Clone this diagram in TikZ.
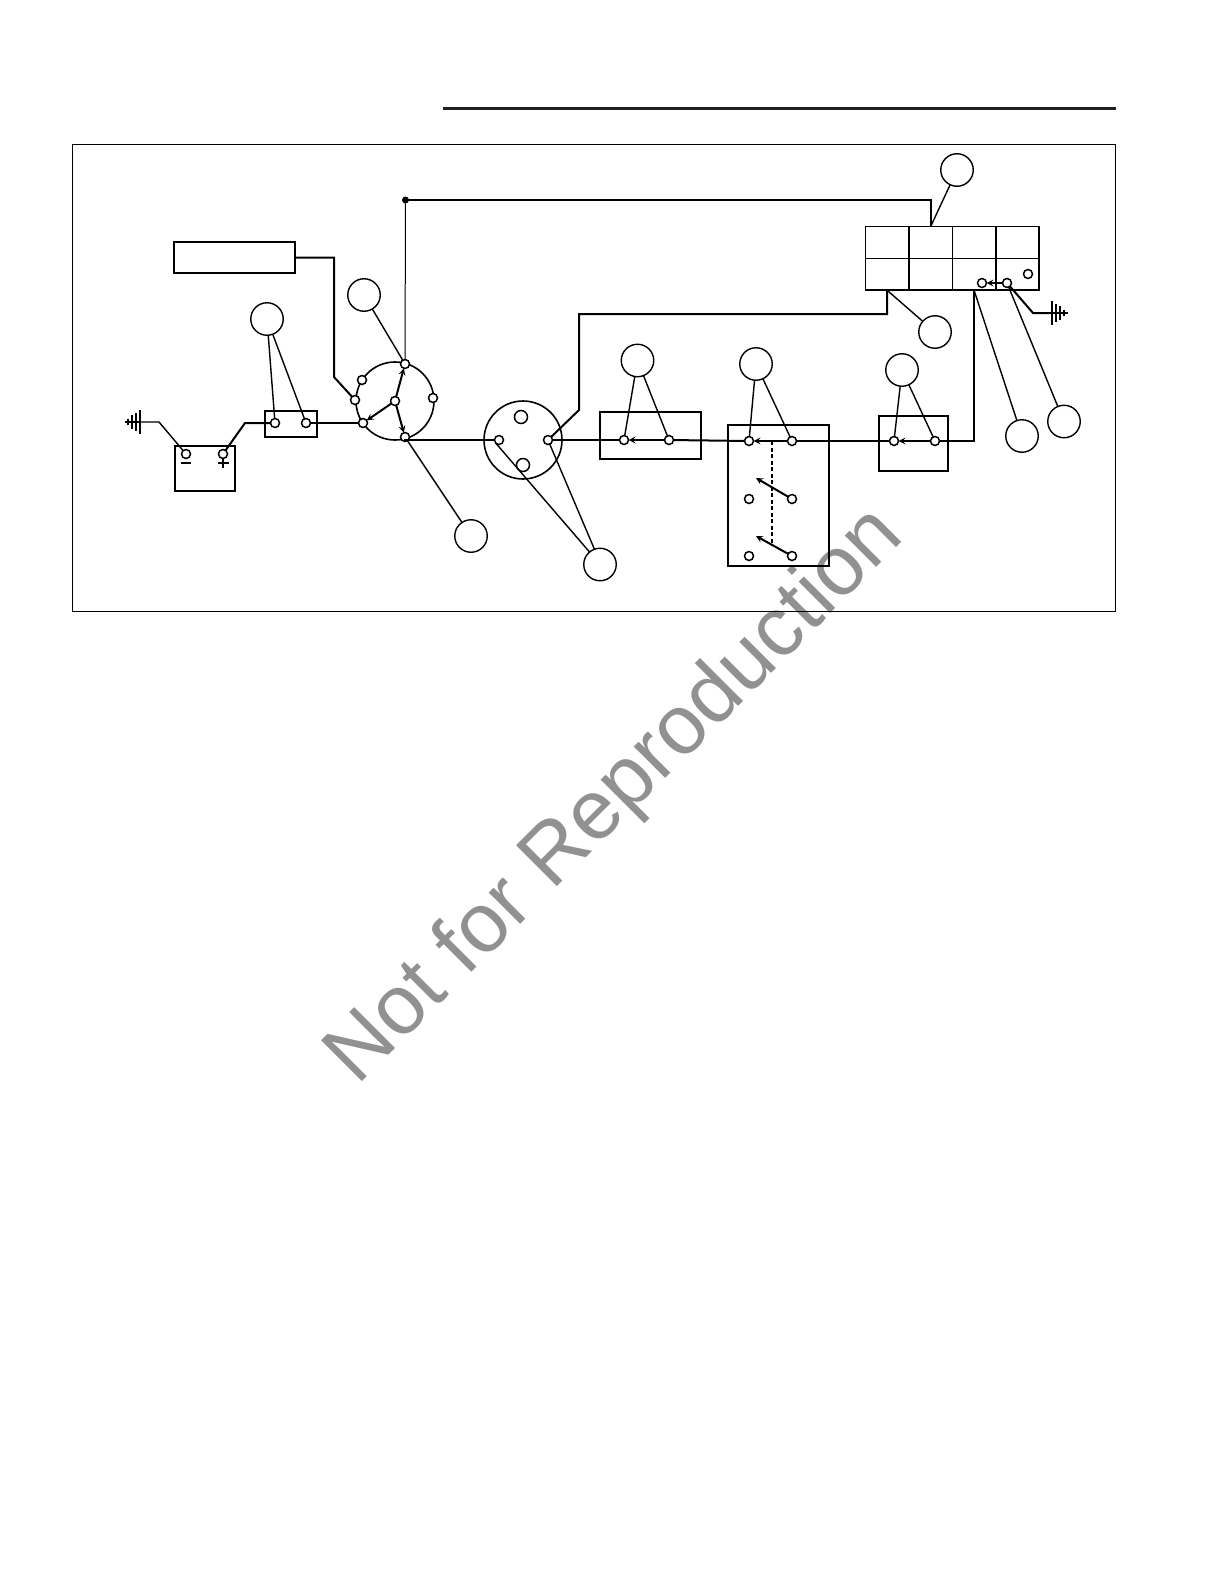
\documentclass[tikz,border=0pt]{standalone}
\usepackage{fontspec}
\usepackage{xcolor}
\usetikzlibrary{matrix}
\newfontfamily\markfont{Liberation Sans}
\definecolor{markgray}{rgb}{0.57,0.57,0.57}
\definecolor{rulegray}{rgb}{0.13,0.13,0.13}
\begin{document}
\begin{tikzpicture}[x=1pt,y=-1pt,>=stealth,
balloon/.style={circle,draw,line width=1.4pt,fill=white,minimum size=32.5pt,inner sep=0pt,outer sep=0pt},
term/.style={circle,draw,line width=1.5pt,fill=white,minimum size=9pt,inner sep=0pt,outer sep=0pt},
hole/.style={term,minimum size=13pt},
disc/.style={circle,draw,line width=1.6pt,minimum size=78pt,inner sep=0pt,outer sep=0pt},
cbox/.style={draw,line width=1.8pt,inner sep=0pt,outer sep=0pt},
wire/.style={line width=2pt},
leader/.style={line width=1.4pt},
panel/.style={matrix of nodes,inner sep=0pt,outer sep=0pt,column sep=-\pgflinewidth,row sep=-\pgflinewidth,nodes in empty cells,
nodes={draw,line width=0.9pt,minimum width=43pt,minimum height=31.5pt,inner sep=0pt,outer sep=0pt}}]
\useasboundingbox (0,0) rectangle (1224,1584);
% watermark
\node[anchor=base,rotate=45,text=markgray,font=\markfont\fontsize{84}{84}\selectfont,inner sep=0pt] (mark) at (632,812.5) {Not for Reproduction};
% page rule and frame
\draw[line width=3pt,rulegray] (443,108.8) -- (1116,108.8);
\draw[line width=1.1pt] (72.5,144.5) rectangle (1115.5,611.5);
% components
\node[cbox,minimum width=121pt,minimum height=31pt] (fuse) at (234.5,257.5) {};
\node[cbox,minimum width=60pt,minimum height=45pt] (battery) at (205,468.5) {};
\node[cbox,line width=1.2pt,minimum width=52pt,minimum height=26pt] (relay) at (291,424) {};
\node[disc] (ignition) at (395,401) {};
\node[disc] (plug) at (523,440) {};
\node[cbox,minimum width=101pt,minimum height=47pt] (switcha) at (650.5,435.5) {};
\node[cbox,minimum width=101pt,minimum height=141pt] (switchb) at (778.5,495.5) {};
\node[cbox,line width=1.4pt,minimum width=69pt,minimum height=55pt] (switchc) at (913.5,443.5) {};
\matrix[panel] (cluster) at (952.3,258.5) {
 & & & \\
 & & & \\};
\draw[line width=1.8pt] (cluster-2-1.south west) -| (cluster-1-4.north east);
% terminals
\foreach \name/\x/\y in {neg/186/454,pos/223/454,rela/275/423,relb/306/423,
ignn/405/364,ignnw/362/380,ignw/355/400,igne/433/398,ignc/395/401,ignsw/363/423,ignse/405/437,
plugl/499/440,plugr/548/440,aleft/624/440,aright/669/440,
bla/749/441,bra/792/441,blb/749/499,brb/792/499,blc/749/556,brc/792/556,
cleft/894/441,cright/935/441,pleft/982/283,pright/1007/283,pfree/1028/274}
\node[term] (\name) at (\x,\y) {};
\node[hole] (plugu) at (521,417) {};
\node[hole] (plugd) at (523,465) {};
% balloons
\foreach \name/\x/\y in {bcluster/957/170,bfeed/935/332,bswc/902/370,bswb/756/364,bswa/637.5/360.5,
bign/364/295,brel/267/319,bout/471/536,bplug/600/564.5,bret/1022/436,bgnd/1064/421.5}
\node[balloon] (\name) at (\x,\y) {};
% helper points
\coordinate (busdot) at (405.5,200);
\coordinate (fusebend) at (334,377);
\coordinate (stubbend) at (579,410);
\coordinate (stubtop) at (579,314);
\coordinate (gndl) at (140,422);
\coordinate (gndlbend) at (159,422);
\coordinate (gndltip) at (125,422);
\coordinate (posbend) at (245,423);
\coordinate (gndr) at (1052,313);
\coordinate (gndrbend) at (1033,313);
\coordinate (gndrtip) at (1068,313);
\coordinate (armb) at (756,478);
\coordinate (armc) at (756,536);
\coordinate (linktop) at (772,441);
\coordinate (linkend) at (772,543);
% wiring
\fill (busdot) circle (3.5pt);
\draw[wire] (busdot) -| (cluster-1-2.north);
\draw[line width=1pt] (busdot) -- (ignn);
\draw[wire] (fuse.east) -| (fusebend) -- (ignw);
\draw[leader] (gndltip) -- (gndl);
\draw[leader] (gndl) -- (gndlbend) -- (neg);
\draw[wire] (pos) -- (posbend) -- (rela);
\draw[leader] (relb) -- (ignsw);
\draw[leader] (ignse) |- (plugl);
\draw[leader] (plugr) -- (aleft);
\draw[wire] (plugr) -- (stubbend) -- (stubtop) -| (cluster-2-1.south);
\draw[wire] (aright) -- (bla);
\draw[wire] (bra) -- (cleft);
\draw[wire] (cright) -| (cluster-2-3.south);
\draw[wire] (pright) -- (gndrbend) -- (gndr);
\draw[leader] (gndr) -- (gndrtip);
% ground bars
\foreach \d/\h in {0/12,4/9,8/7,12/3} {
\draw[leader] ([shift={(-\d,-\h)}]gndl) -- ([shift={(-\d,\h)}]gndl);
\draw[leader] ([shift={(\d,-\h)}]gndr) -- ([shift={(\d,\h)}]gndr);
}
% battery marks
\draw[wire] ([shift={(-5,9)}]neg.center) -- ([shift={(5,9)}]neg.center);
\draw[wire] ([shift={(-5.5,9)}]pos.center) -- ([shift={(5.5,9)}]pos.center);
\draw[wire] ([shift={(0,4.5)}]pos.center) -- ([shift={(0,14)}]pos.center);
% moving contacts
\draw[->,wire] (ignc) -- (ignn);
\draw[->,wire] (ignc) -- (ignsw);
\draw[->,wire] (ignc) -- (ignse);
\draw[->,wire] (aright) -- (aleft);
\draw[->,wire] (bra) -- (bla);
\draw[->,wire] (brb) -- (armb);
\draw[->,wire] (brc) -- (armc);
\draw[->,wire] (cright) -- (cleft);
\draw[->,wire] (pright) -- (pleft);
\draw[wire,dash pattern=on 4pt off 2.5pt] (linktop) -- (linkend);
% balloon leaders
\draw[leader] (bcluster) -- (cluster-1-2.north);
\draw[leader] (bfeed) -- (cluster-2-1.south);
\draw[leader] (bret) -- (cluster-2-3.south);
\draw[leader] (bgnd) -- (pright);
\draw[leader] (bswc) -- (cleft);
\draw[leader] (bswc) -- (cright);
\draw[leader] (bswb) -- (bla);
\draw[leader] (bswb) -- (bra);
\draw[leader] (bswa) -- (aleft);
\draw[leader] (bswa) -- (aright);
\draw[leader] (bplug.130) -- (plugl.225);
\draw[leader] (bplug.110) -- (plugr);
\draw[leader] (bign) -- (ignn);
\draw[leader] (brel) -- (rela);
\draw[leader] (brel) -- (relb);
\draw[leader] (bout) -- (ignse);
\end{tikzpicture}
\end{document}
